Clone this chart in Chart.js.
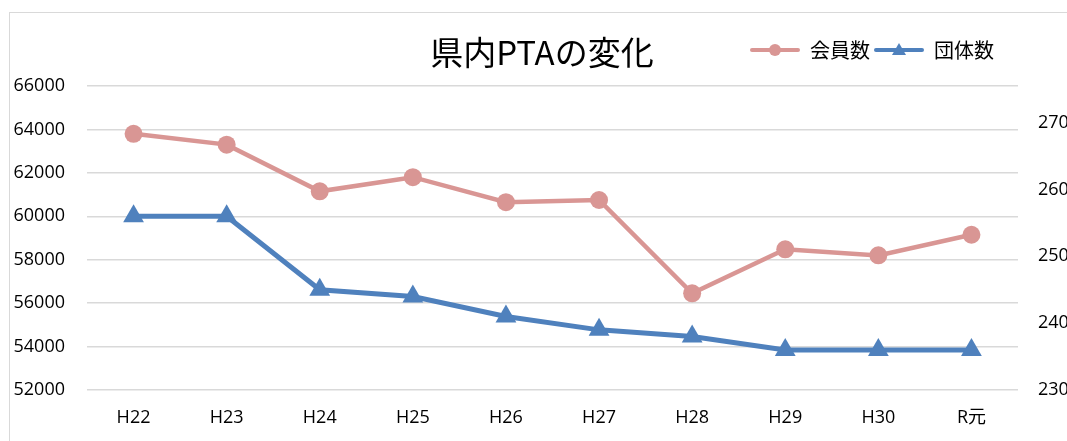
<!DOCTYPE html>
<html lang="ja">
<head>
<meta charset="utf-8">
<title>県内PTAの変化</title>
<script src="https://cdn.jsdelivr.net/npm/chart.js@4.4.1/dist/chart.umd.min.js"></script>
<style>
  html, body { margin: 0; padding: 0; background: #fff; overflow: hidden; }
  .frame { position: absolute; left: 9px; top: 12px; width: 1100px; height: 460px; border: 1px solid #d9d9d9; }
  .frame canvas { position: absolute; left: 0; top: 0; }
  .title {
    position: absolute; left: 542px; top: 51px; transform: translate(-50%, -50%);
    font: 33px "Noto Sans CJK JP", sans-serif; color: #000; white-space: nowrap; line-height: 1;
  }
</style>
</head>
<body>
<div class="frame"><canvas id="ptaChart" width="1080" height="440"></canvas></div>
<div class="title">県内PTAの変化</div>
<script>
// 年度
const years = ["H22", "H23", "H24", "H25", "H26", "H27", "H28", "H29", "H30", "R元"];
// 会員数 (左軸)
const memberCounts = [63800, 63300, 61150, 61800, 60650, 60750, 56450, 58480, 58200, 59150];
// 団体数 (右軸)
const groupCounts = [256, 256, 245, 244, 241, 239, 238, 236, 236, 236];

const memberAxis = { min: 52000, max: 66000, step: 2000 };
const groupAxis = { min: 230, max: 275.5, step: 10 };

const pink = "#d99694";
const blue = "#4f81bd";
const tickFont = { family: "'Open Sans', 'Noto Sans CJK JP', sans-serif", size: 18 };

// legend icon: short line with marker in the middle
function legendIcon(color, style) {
  const c = document.createElement("canvas");
  c.width = 50;
  c.height = 16;
  const ctx = c.getContext("2d");
  ctx.strokeStyle = color;
  ctx.fillStyle = color;
  ctx.lineWidth = 4;
  ctx.lineCap = "round";
  ctx.beginPath();
  ctx.moveTo(2, 8);
  ctx.lineTo(48, 8);
  ctx.stroke();
  ctx.beginPath();
  if (style === "triangle") {
    ctx.moveTo(25, 1);
    ctx.lineTo(32, 13);
    ctx.lineTo(18, 13);
    ctx.closePath();
  } else {
    ctx.arc(25, 8, 6, 0, Math.PI * 2);
  }
  ctx.fill();
  return c;
}

const ptaChart = new Chart(document.getElementById("ptaChart"), {
  type: "line",
  data: {
    labels: years,
    datasets: [{
      label: "会員数",
      data: memberCounts,
      yAxisID: "y",
      borderColor: pink,
      backgroundColor: pink,
      borderWidth: 4.5,
      pointStyle: "circle",
      pointRadius: 9,
      pointBorderWidth: 0,
      tension: 0
    }, {
      label: "団体数",
      data: groupCounts,
      yAxisID: "y2",
      borderColor: blue,
      backgroundColor: blue,
      borderWidth: 5,
      pointStyle: "triangle",
      pointRadius: 12,
      pointBorderWidth: 0,
      tension: 0
    }]
  },
  options: {
    responsive: false,
    animation: false,
    devicePixelRatio: 1,
    layout: { padding: { top: 23, left: 0, right: 0, bottom: 0 } },
    plugins: {
      tooltip: { enabled: false },
      legend: {
        position: "top",
        align: "end",
        fullSize: false,
        labels: {
          usePointStyle: true,
          pointStyleWidth: 50,
          padding: 4,
          color: "#000",
          font: { family: "'Noto Sans CJK JP', sans-serif", size: 20 },
          generateLabels: function (chart) {
            const sets = chart.data.datasets;
            return sets.map((ds, i) => ({
              text: ds.label + (i === sets.length - 1 ? "\u3000" : ""),
              pointStyle: legendIcon(ds.borderColor, ds.pointStyle),
              datasetIndex: i,
              hidden: false,
              lineWidth: 0,
              fillStyle: ds.borderColor,
              strokeStyle: ds.borderColor
            }));
          }
        }
      },
      // spacer between legend and plot area
      subtitle: {
        display: true,
        text: " ",
        weight: 500,
        fullSize: false,
        font: { size: 1, lineHeight: 1 },
        padding: { top: 0, bottom: 15 }
      }
    },
    scales: {
      x: {
        offset: true,
        grid: { display: false, drawTicks: false },
        border: { display: false },
        ticks: { color: "#000", font: tickFont, padding: 17, maxRotation: 0 },
        afterFit: function (axis) { axis.height = 63; }
      },
      y: {
        position: "left",
        min: memberAxis.min,
        max: memberAxis.max,
        grid: { color: "#d9d9d9", lineWidth: 1.5, drawTicks: false },
        border: { display: false },
        ticks: {
          stepSize: memberAxis.step, color: "#000", font: tickFont, padding: 22,
          callback: function (value) { return String(value); }
        },
        afterFit: function (axis) { axis.width = 77; }
      },
      y2: {
        position: "right",
        min: groupAxis.min,
        max: groupAxis.max,
        grid: { display: false, drawTicks: false },
        border: { display: false },
        ticks: {
          stepSize: groupAxis.step, color: "#000", font: tickFont, padding: 20,
          callback: function (value) { return String(value); }
        },
        afterBuildTicks: function (axis) {
          axis.ticks = axis.ticks.filter(t => (t.value - groupAxis.min) % groupAxis.step === 0);
        },
        afterFit: function (axis) { axis.width = 72; }
      }
    }
  }
});
</script>
</body>
</html>
